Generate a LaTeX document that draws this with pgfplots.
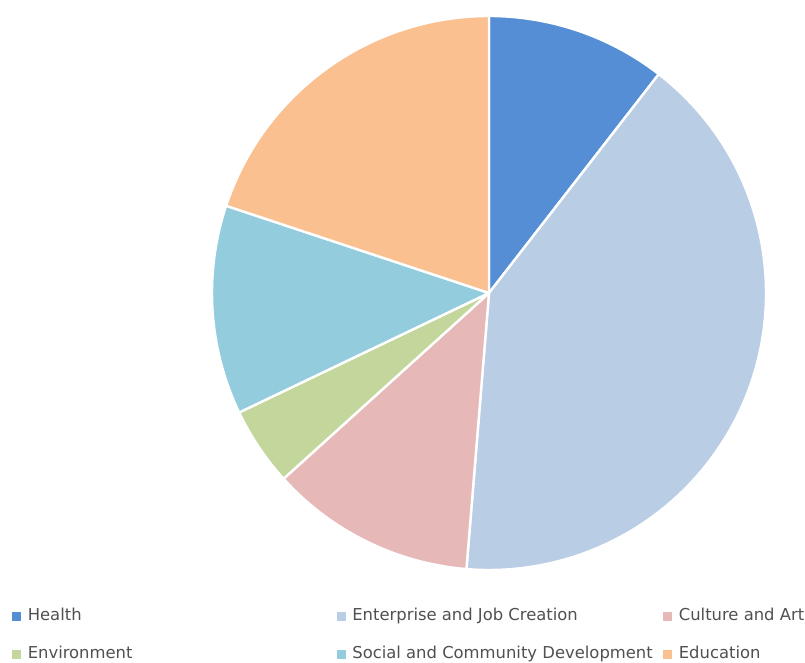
\documentclass[border=0pt]{standalone}
\usepackage{pgfplots}
\usepackage{pgfplotstable}
\usepackage{fontspec}
\setmainfont{DejaVu Sans}
\pgfplotsset{compat=1.18}

\definecolor{cHealth}{HTML}{558ED5}
\definecolor{cEnterprise}{HTML}{B9CDE5}
\definecolor{cCulture}{HTML}{E6B9B8}
\definecolor{cEnvironment}{HTML}{C3D69B}
\definecolor{cSocial}{HTML}{93CDDD}
\definecolor{cEducation}{HTML}{FAC090}
\definecolor{legendtext}{HTML}{505050}

% share of each sector, in per cent, clockwise from the top
\pgfplotstableread{
value colour
10.5  cHealth
40.8  cEnterprise
12.0  cCulture
4.6   cEnvironment
12.2  cSocial
19.9  cEducation
}\piedata

\begin{document}
\begin{tikzpicture}
\begin{axis}[
    x=0.75pt, y=0.75pt,
    xmin=0, xmax=805, ymin=0, ymax=662,
    hide axis, clip=false,
    legend columns=3,
    legend image code/.code={
        \fill[#1] (0pt,-3pt) rectangle (6pt,3pt);
        \path (11.25pt,0pt);
    },
    legend style={
        at={(axis cs:12,27)}, anchor=west,
        draw=none, fill=none, inner sep=0pt,
        column sep=0pt, row sep=18.5pt,
        cells={anchor=west},
        nodes={inner sep=0pt, text height=8.5pt, text depth=1.5pt,
               font=\fontsize{12.3}{15}\selectfont, text=legendtext},
    },
]
\pgfplotsextra{
    \xdef\acur{90}
    \foreach \i in {0,...,5} {
        \pgfplotstablegetelem{\i}{value}\of\piedata
        \let\v\pgfplotsretval
        \pgfplotstablegetelem{\i}{colour}\of\piedata
        \let\c\pgfplotsretval
        \pgfmathsetmacro{\aend}{\acur-3.6*\v}
        \filldraw[fill=\c, draw=white, line width=1.8pt, line join=round]
            (axis cs:489,369) -- ++(\acur:207.75pt)
            arc[start angle=\acur, end angle=\aend, radius=207.75pt] -- cycle;
        \xdef\acur{\aend}
    }
}
\addlegendimage{cHealth}
\addlegendentry{\makebox[231.75pt][l]{Health}}
\addlegendimage{cEnterprise}
\addlegendentry{\makebox[233.25pt][l]{Enterprise and Job Creation}}
\addlegendimage{cCulture}
\addlegendentry{Culture and Art}
\addlegendimage{cEnvironment}
\addlegendentry{\makebox[231.75pt][l]{Environment}}
\addlegendimage{cSocial}
\addlegendentry{\makebox[233.25pt][l]{Social and Community Development}}
\addlegendimage{cEducation}
\addlegendentry{Education}
\end{axis}
\pgfresetboundingbox
\path (current axis.south west) rectangle (current axis.north east);
\end{tikzpicture}
\end{document}
